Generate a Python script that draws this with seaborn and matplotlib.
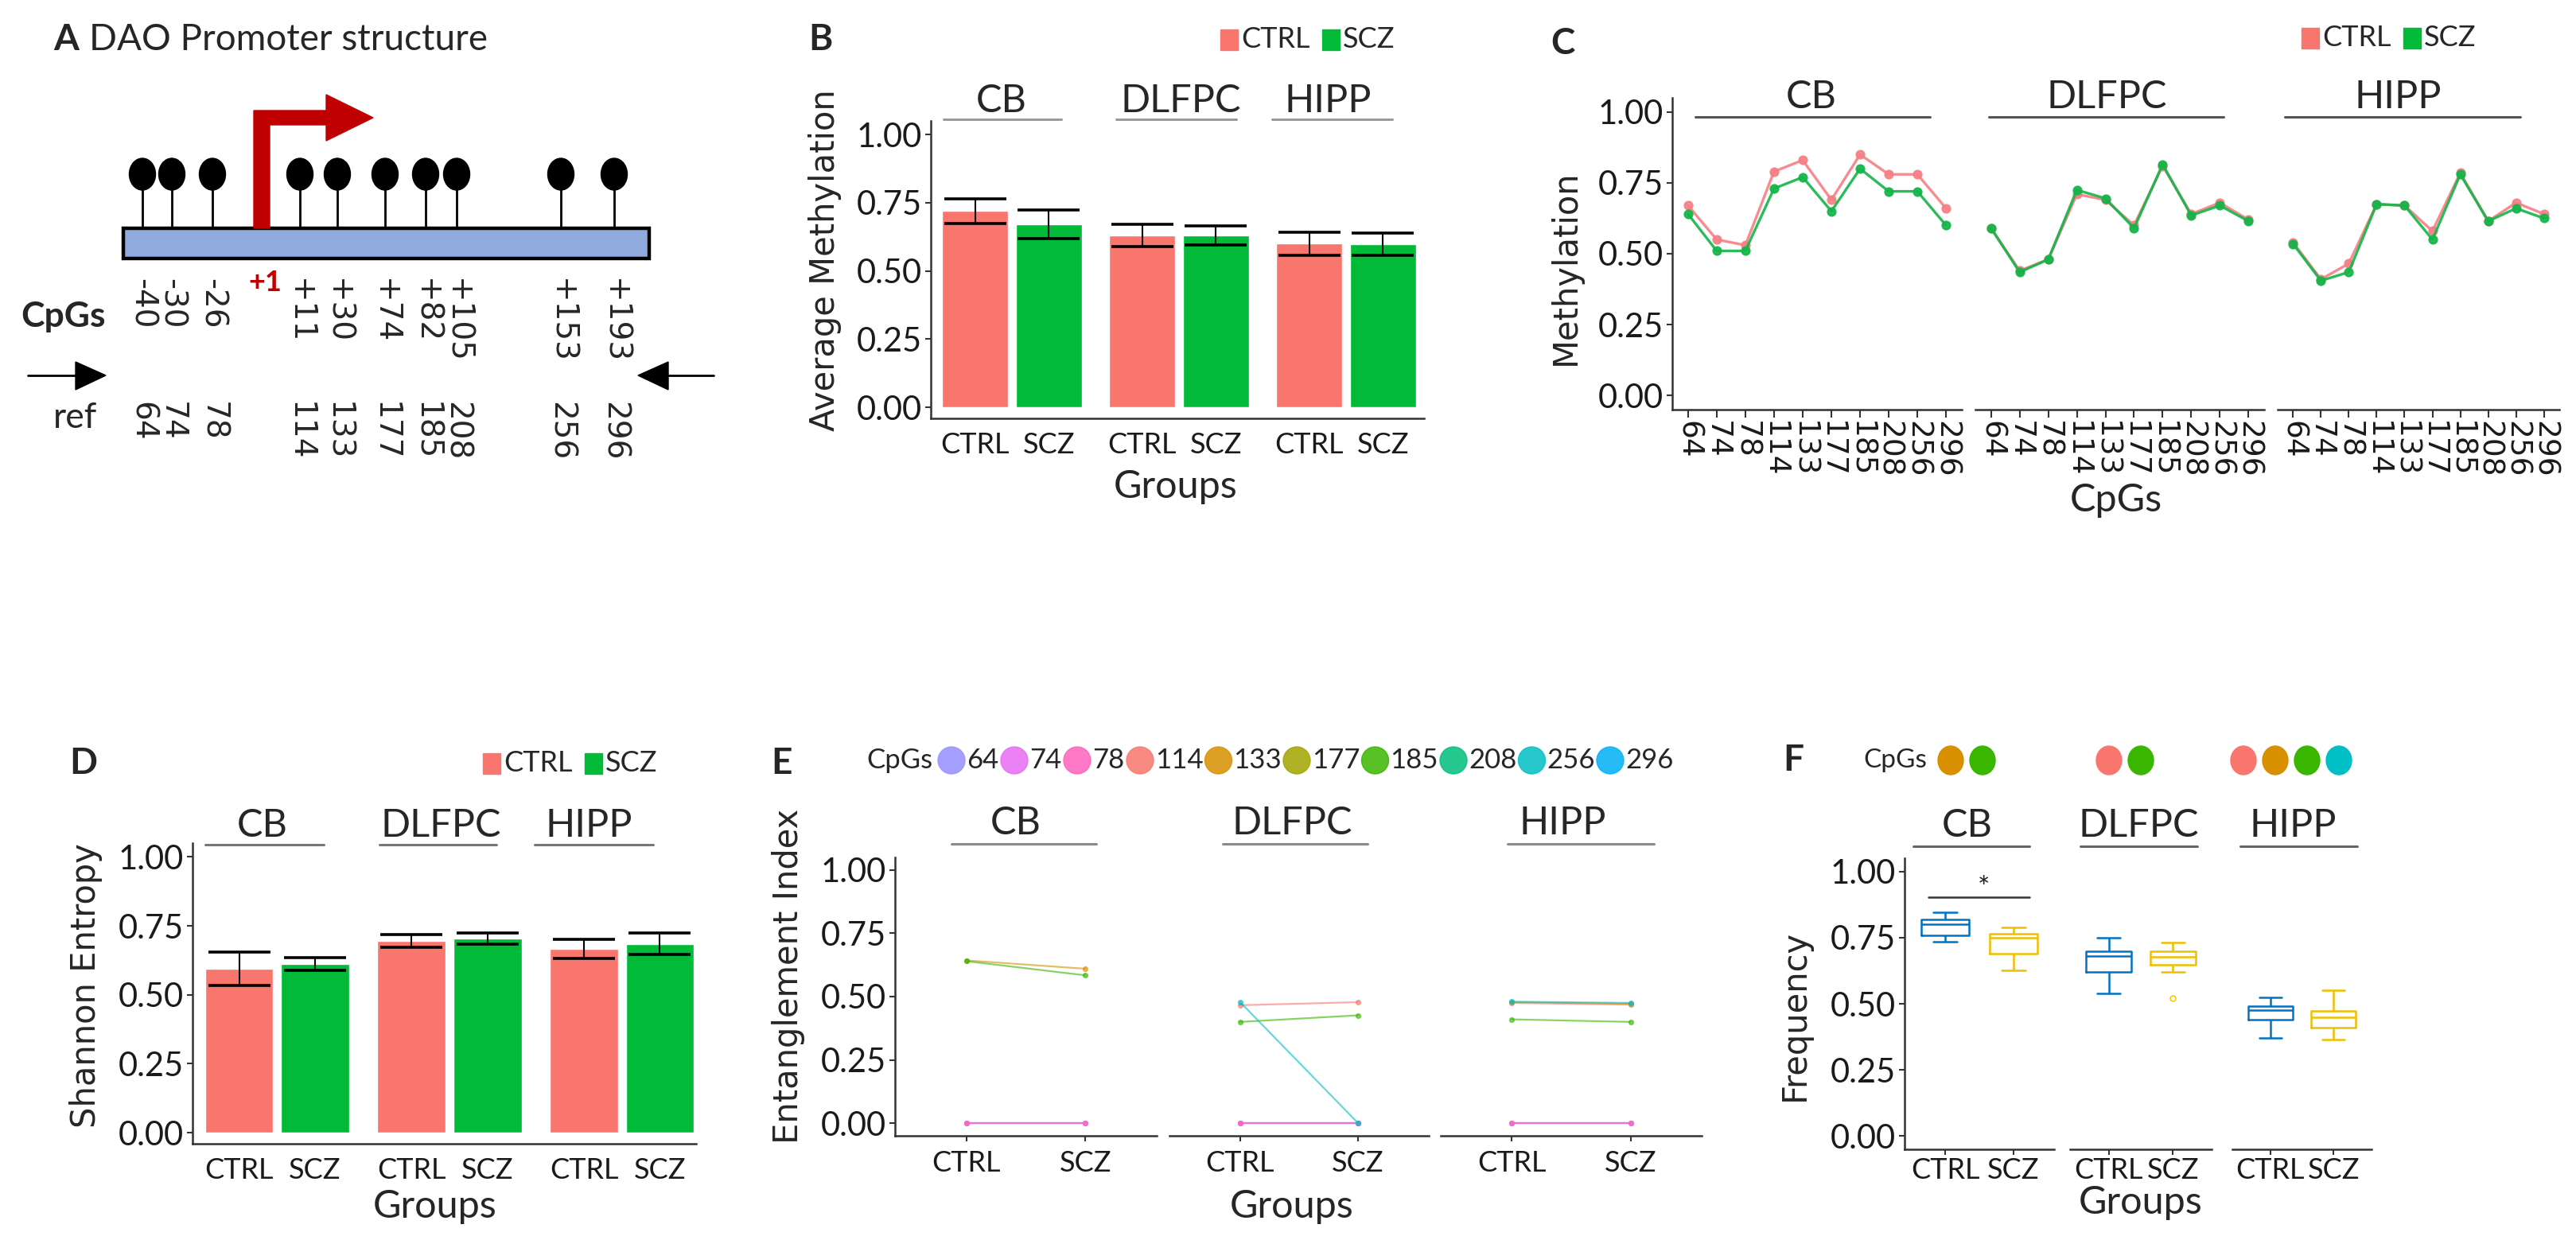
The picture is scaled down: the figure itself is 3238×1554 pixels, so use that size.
import numpy as np
import pandas as pd
import matplotlib

matplotlib.use("Agg")
import matplotlib.pyplot as plt
from matplotlib.patches import Rectangle, Ellipse, Circle, Polygon
import seaborn as sns

W, H = 3238, 1554

# ---------------- data ----------------
regions = ["CB", "DLFPC", "HIPP"]
groups = ["CTRL", "SCZ"]
cpgs = ["64", "74", "78", "114", "133", "177", "185", "208", "256", "296"]
cpg_pos = ["-40", "-30", "-26", "+11", "+30", "+74", "+82", "+105", "+153", "+193"]

# B: average methylation (mean +/- error)
meth_ctrl = [0.720, 0.630, 0.600]
meth_scz = [0.672, 0.630, 0.598]
meth_err_ctrl = [0.045, 0.040, 0.043]
meth_err_scz = [0.053, 0.034, 0.040]

# C: methylation per CpG
c_ctrl = {
    "CB": [0.67, 0.55, 0.53, 0.79, 0.83, 0.69, 0.85, 0.78, 0.78, 0.66],
    "DLFPC": [0.59, 0.44, 0.48, 0.71, 0.69, 0.60, 0.81, 0.64, 0.68, 0.62],
    "HIPP": [0.54, 0.41, 0.465, 0.675, 0.67, 0.58, 0.785, 0.615, 0.68, 0.64],
}
c_scz = {
    "CB": [0.64, 0.51, 0.51, 0.73, 0.77, 0.65, 0.80, 0.72, 0.72, 0.60],
    "DLFPC": [0.59, 0.435, 0.48, 0.725, 0.695, 0.59, 0.815, 0.635, 0.67, 0.615],
    "HIPP": [0.535, 0.405, 0.435, 0.675, 0.67, 0.55, 0.78, 0.615, 0.66, 0.625],
}

# D: Shannon entropy
ent_ctrl = [0.594, 0.695, 0.667]
ent_scz = [0.612, 0.705, 0.685]
ent_err_ctrl = [0.060, 0.022, 0.034]
ent_err_scz = [0.022, 0.020, 0.039]

# E: entanglement index, [CTRL, SCZ] per CpG
e_cb = {"64": [0, 0], "74": [0, 0], "78": [0, 0],
        "133": [0.643, 0.610], "185": [0.640, 0.584]}
e_dlfpc = {"64": [0, 0], "74": [0, 0], "78": [0, 0],
           "114": [0.466, 0.478], "185": [0.400, 0.426], "256": [0.478, 0.0]}
e_hipp = {"64": [0, 0], "74": [0, 0], "78": [0, 0],
          "114": [0.475, 0.468], "133": [0.478, 0.472],
          "185": [0.410, 0.400], "256": [0.480, 0.475]}

# F: frequency samples per region / group
f_cb_ctrl = [0.735, 0.75, 0.758, 0.78, 0.80, 0.81, 0.82, 0.83, 0.845]
f_cb_scz = [0.625, 0.67, 0.69, 0.72, 0.75, 0.755, 0.763, 0.775, 0.79]
f_dl_ctrl = [0.54, 0.60, 0.62, 0.65, 0.68, 0.69, 0.697, 0.72, 0.75]
f_dl_scz = [0.52, 0.62, 0.648, 0.66, 0.676, 0.69, 0.697, 0.71, 0.73]
f_hi_ctrl = [0.37, 0.42, 0.44, 0.46, 0.475, 0.48, 0.49, 0.51, 0.525]
f_hi_scz = [0.365, 0.39, 0.41, 0.43, 0.45, 0.46, 0.473, 0.50, 0.55]
f_cpgs = {"CB": ["133", "185"], "DLFPC": ["114", "185"],
          "HIPP": ["114", "133", "185", "256"]}

# ---------------- styles ----------------
pal = {"CTRL": "#F8766D", "SCZ": "#00BA38"}
pal_c = {"CTRL": "#F57F85", "SCZ": "#14B548"}
pal_f = {"CTRL": "#0073C2", "SCZ": "#EFC000"}
cpg_col = dict(zip(cpgs, ["#9590FF", "#E76BF3", "#FF62BC", "#F8766D", "#D89000",
                          "#A3A500", "#39B600", "#00BF7D", "#00BFC4", "#00B0F6"]))
AX = "#333333"
TICK = 30
XT = 26

sns.set_theme(style="ticks")
plt.rcParams["font.family"] = ["Lato", "DejaVu Sans"]

fig = plt.figure(figsize=(W / 100, H / 100), dpi=100)
fig.patch.set_facecolor("white")


def box(l, t, r, b):
    return [l / W, 1 - b / H, (r - l) / W, (b - t) / H]


def style(ax, first=True):
    sns.despine(ax=ax, left=not first)
    for s in ("left", "bottom"):
        ax.spines[s].set_color(AX)
        ax.spines[s].set_linewidth(1.8)
    ax.tick_params(axis="both", length=5, width=1.5, color=AX, pad=3,
                   labelsize=TICK, labelcolor="#1a1a1a")
    ax.set_xlabel("")
    ax.set_ylabel("")
    ax.patch.set_alpha(0)
    ax.set_ylim(-0.05, 1.05)
    ax.set_yticks([0, 0.25, 0.5, 0.75, 1.0])
    ax.set_yticklabels(["0.00", "0.25", "0.50", "0.75", "1.00"])
    if not first:
        ax.tick_params(axis="y", left=False, labelleft=False)


def bars(rect, ctrl, scz, err_c, err_s, xlim):
    df = pd.DataFrame({"region": regions * 2, "group": ["CTRL"] * 3 + ["SCZ"] * 3,
                       "val": ctrl + scz, "err": err_c + err_s})
    ax = fig.add_axes(box(*rect))
    sns.barplot(df, x="region", y="val", hue="group", order=regions,
                hue_order=groups, palette=pal, width=0.88, gap=0.1,
                errorbar=None, saturation=1, legend=False, ax=ax)
    xs = [p.get_x() + p.get_width() / 2 for p in ax.patches]
    ax.errorbar(xs, df["val"], yerr=df["err"], fmt="none", ecolor="black",
                elinewidth=1.5, capsize=28, capthick=2.6, zorder=5)
    style(ax)
    ax.set_xlim(*xlim)
    order = np.argsort(xs)
    ax.set_xticks(np.array(xs)[order])
    ax.set_xticklabels(np.array(df["group"])[order], fontsize=XT)
    ax.tick_params(axis="x", length=0, pad=12)
    ax.set_ylim(-0.04, 1.05)
    return ax


# ---------------- B ----------------
bars((1170, 152, 1790, 526), meth_ctrl, meth_scz, meth_err_ctrl, meth_err_scz, (-0.486, 2.467))

# ---------------- C ----------------
rows = []
for r in regions:
    for g, src in (("CTRL", c_ctrl), ("SCZ", c_scz)):
        for c, v in zip(cpgs, src[r]):
            rows.append((r, g, c, v))
df_c = pd.DataFrame(rows, columns=["region", "group", "cpg", "val"])
c_x = [(2102, 2466), (2483, 2846), (2863, 3217)]
for i, r in enumerate(regions):
    ax = fig.add_axes(box(c_x[i][0], 123, c_x[i][1], 515))
    sns.pointplot(df_c[df_c.region == r], x="cpg", y="val", hue="group",
                  order=cpgs, hue_order=groups, palette=pal_c, markers="o",
                  errorbar=None, legend=False, ax=ax, markersize=7,
                  linewidth=2.4, alpha=0.9)
    style(ax, first=(i == 0))
    ax.set_xlim(-0.55, 9.55)
    ax.set_xticks(range(len(cpgs)))
    ax.set_xticklabels(cpgs, rotation=270, family="DejaVu Sans", fontsize=27)
    ax.tick_params(axis="x", length=7, pad=3)

# ---------------- D ----------------
bars((242, 1060, 875, 1438), ent_ctrl, ent_scz, ent_err_ctrl, ent_err_scz, (-0.49, 2.43))

# ---------------- E ----------------
rows = []
for r, d in zip(regions, (e_cb, e_dlfpc, e_hipp)):
    for c, vals in d.items():
        for g, v in zip(groups, vals):
            rows.append((r, g, c, v))
df_e = pd.DataFrame(rows, columns=["region", "group", "cpg", "val"])
e_x = [(1125, 1454), (1470, 1796), (1811, 2139)]
for i, r in enumerate(regions):
    ax = fig.add_axes(box(e_x[i][0], 1078, e_x[i][1], 1428))
    sub = df_e[df_e.region == r]
    hue_order = [c for c in cpgs if c in set(sub.cpg)]
    sns.pointplot(sub, x="group", y="val", hue="cpg", order=groups,
                  hue_order=hue_order, palette=cpg_col, markers="o",
                  errorbar=None, legend=False, ax=ax, markersize=4,
                  linewidth=1.6, alpha=0.6)
    style(ax, first=(i == 0))
    ax.set_xlim(-0.6, 1.6)
    ax.tick_params(axis="x", labelsize=XT, pad=8)

# ---------------- F ----------------
f_data = {"CB": (f_cb_ctrl, f_cb_scz), "DLFPC": (f_dl_ctrl, f_dl_scz),
          "HIPP": (f_hi_ctrl, f_hi_scz)}
f_x = [(2394, 2582), (2602, 2780), (2806, 2981)]
for i, r in enumerate(regions):
    ctrl, scz = f_data[r]
    sub = pd.DataFrame({"group": ["CTRL"] * len(ctrl) + ["SCZ"] * len(scz),
                        "val": ctrl + scz})
    ax = fig.add_axes(box(f_x[i][0], 1079, f_x[i][1], 1445))
    sns.boxplot(sub, x="group", y="val", hue="group", order=groups,
                hue_order=groups, palette=pal_f, fill=False, width=0.7,
                linewidth=1.8, fliersize=5, legend=False, ax=ax)
    style(ax, first=(i == 0))
    ax.set_xlim(-0.6, 1.6)
    ax.tick_params(axis="x", labelsize=XT, pad=2)

# ---------------- overlay: panel A, titles, strips, legends ----------------
ov = fig.add_axes([0, 0, 1, 1])
ov.set_xlim(0, W)
ov.set_ylim(H, 0)
ov.axis("off")
ov.patch.set_alpha(0)

# panel A schematic
a_stem_x = [179, 216, 267, 377, 424, 484, 535, 574, 705, 772]
ov.add_patch(Rectangle((155, 287), 661, 38, facecolor="#8FAADC", edgecolor="black", lw=3.2, zorder=2))
for x in a_stem_x:
    ov.plot([x, x], [287, 225], color="black", lw=2, zorder=1)
    ov.add_patch(Ellipse((x, 219), 33, 40, color="black", zorder=2))
ov.add_patch(Polygon([(319, 287), (319, 139), (410, 139), (410, 119), (469, 148),
                      (410, 177), (410, 157), (339, 157), (339, 287)],
                     closed=True, color="#C00000", zorder=3))
ov.text(333, 356, "+1", color="#C00000", fontsize=26, fontweight="bold", ha="center", va="center")
for x, lab in zip(a_stem_x, cpg_pos):
    ov.text(x, 350, lab, rotation=270, ha="center", va="top", family="DejaVu Sans", fontsize=28)
for x, lab in zip(a_stem_x, cpgs):
    ov.text(x, 505, lab, rotation=270, ha="center", va="top", family="DejaVu Sans", fontsize=28)
ov.text(79, 398, "CpGs", fontsize=32, fontweight="bold", ha="center", va="center")
ov.text(95, 525, "ref", fontsize=32, ha="center", va="center")
ov.plot([35, 100], [472, 472], color="black", lw=2)
ov.add_patch(Polygon([(95, 455), (133, 472), (95, 490)], color="black"))
ov.plot([840, 897], [472, 472], color="black", lw=2)
ov.add_patch(Polygon([(840, 455), (802, 472), (840, 490)], color="black"))
ov.text(67, 50, "A", fontsize=33, fontweight="bold", ha="left", va="center")
ov.text(112, 50, "DAO Promoter structure", fontsize=33, ha="left", va="center")

# panel letters
for lab, x, y in (("B", 1031, 50), ("C", 1964, 55), ("D", 105, 960), ("E", 982, 960), ("F", 2254, 956)):
    ov.text(x, y, lab, fontsize=33, fontweight="bold", ha="center", va="center")

# axis titles
ylabs = [("Average Methylation", 1037, 327), ("Methylation", 1968, 336),
         ("Shannon Entropy", 108, 1239), ("Entanglement Index", 991, 1227),
         ("Frequency", 2256, 1276)]
for lab, x, y in ylabs:
    ov.text(x, y, lab, rotation=90, family="DejaVu Sans", fontsize=30, ha="center", va="center")
for lab, x, y in (("Groups", 1478, 612), ("CpGs", 2660, 629), ("Groups", 547, 1517),
                  ("Groups", 1624, 1517), ("Groups", 2691, 1512)):
    ov.text(x, y, lab, fontsize=35, ha="center", va="center")

# facet strips (label + underline)
strips = [
    (127, 150, [(1259, 1186, 1334), (1484, 1403, 1554), (1669, 1599, 1750)], "#9a9a9a"),
    (122, 147, [(2277, 2131, 2426), (2648, 2500, 2795), (3014, 2872, 3168)], "#555555"),
    (1038, 1062, [(330, 258, 407), (554, 477, 624), (740, 672, 821)], "#777777"),
    (1035, 1061, [(1277, 1196, 1378), (1624, 1537, 1719), (1964, 1895, 2079)], "#8a8a8a"),
    (1038, 1064, [(2473, 2405, 2551), (2688, 2615, 2762), (2882, 2816, 2963)], "#666666"),
]
for ty, ly, items, col in strips:
    for r, (cx, x0, x1) in zip(regions, items):
        ov.text(cx, ty, r, fontsize=35, ha="center", va="center")
        ov.plot([x0, x1], [ly, ly], color=col, lw=2.2)

# CTRL / SCZ legends
for x0, y in ((1534, 50), (2893, 48), (607, 960)):
    for k, g in enumerate(groups):
        xs = x0 + k * 128
        ov.add_patch(Rectangle((xs, y - 13), 22, 26, color=pal[g]))
        ov.text(xs + 26, y, g, fontsize=26, ha="left", va="center")

# E CpG legend
ov.text(1131, 956, "CpGs", fontsize=25, ha="center", va="center")
x = 1196
for c in cpgs:
    ov.add_patch(Circle((x, 956), 17, color=cpg_col[c], alpha=0.85))
    ov.text(x + 19, 956, c, fontsize=25, ha="left", va="center")
    x += 40 + 19.5 * len(c)

# F CpG legend
ov.text(2382, 956, "CpGs", fontsize=24, ha="center", va="center")
for x0, r in ((2452, "CB"), (2651, "DLFPC"), (2820, "HIPP")):
    for k, c in enumerate(f_cpgs[r]):
        ov.add_patch(Ellipse((x0 + k * 40, 956), 32, 36, color=cpg_col[c]))

# significance mark in F
ov.plot([2424, 2551], [1128, 1128], color="#333333", lw=1.8)
ov.text(2493, 1118, "*", fontsize=26, ha="center", va="center")

fig.savefig("out.png", dpi=100)
